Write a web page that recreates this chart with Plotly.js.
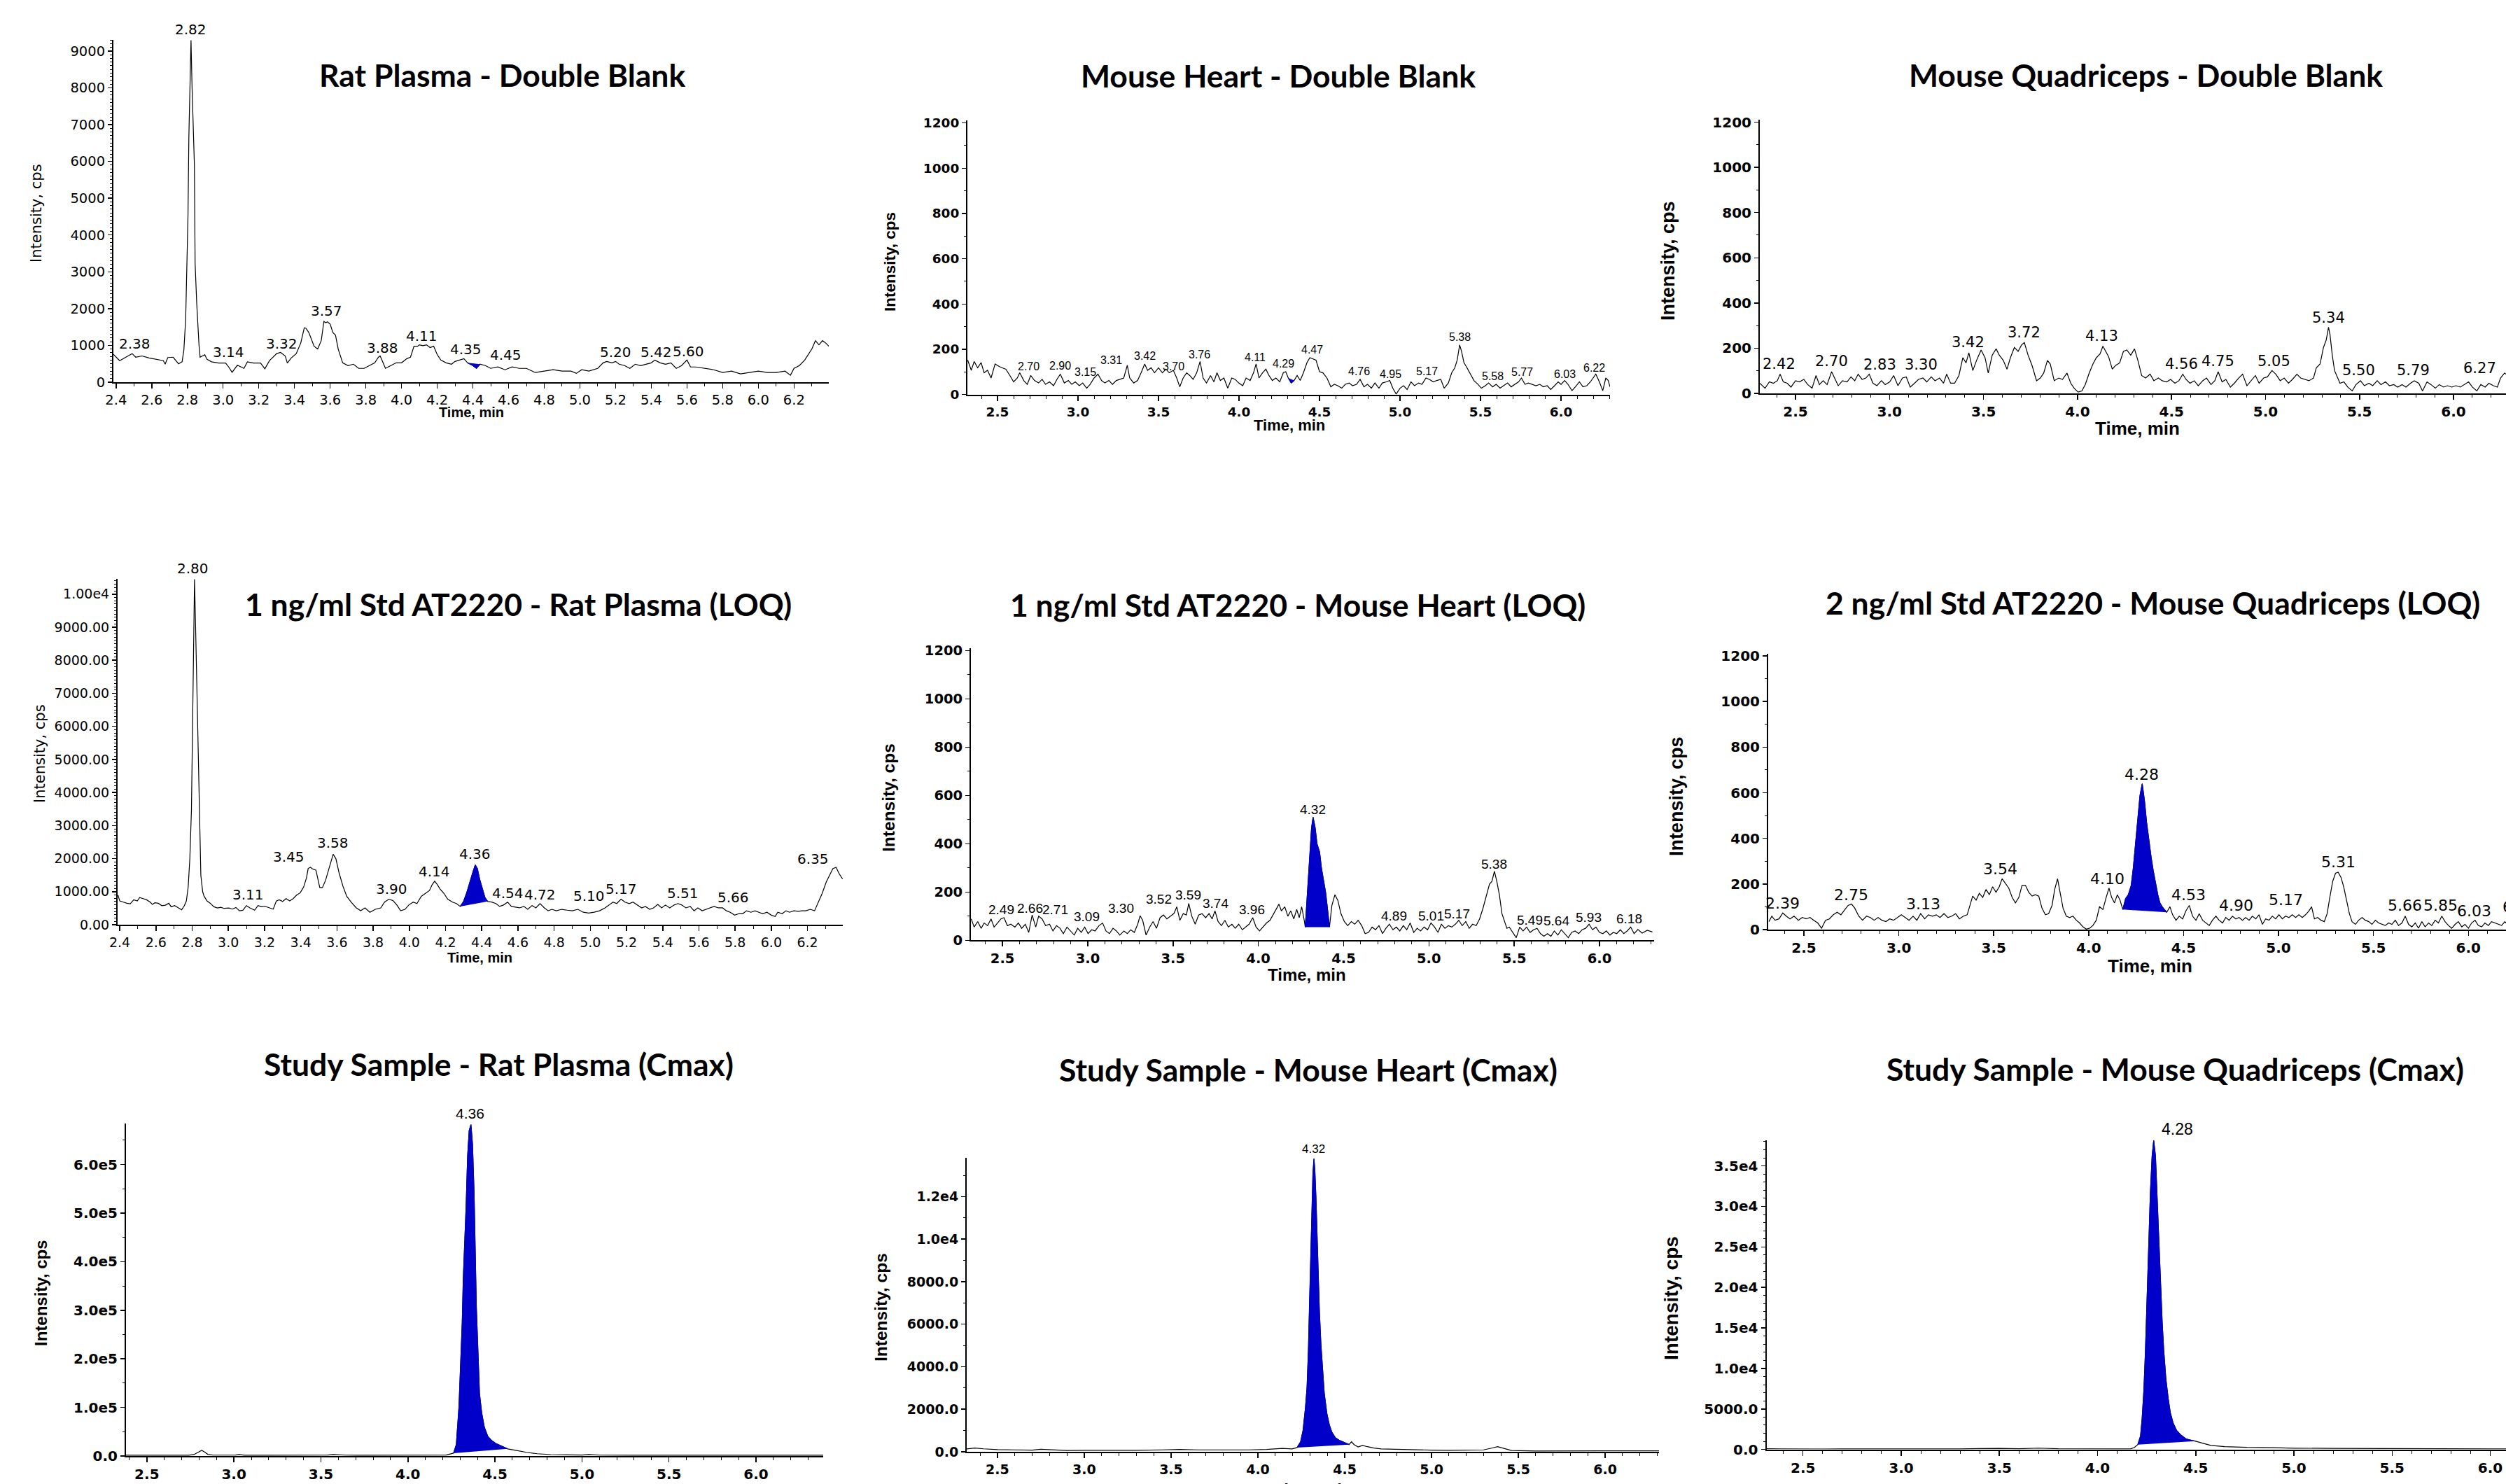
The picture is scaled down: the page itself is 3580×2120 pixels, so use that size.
<!DOCTYPE html>
<html><head><meta charset="utf-8">
<script src="https://cdn.plot.ly/plotly-3.0.1.min.js"></script>
<style>html,body{margin:0;padding:0;background:#fff;}#chart{width:3580px;height:2120px;}</style>
</head><body><div id="chart"></div>
<script>
// ---------------- DATA ----------------
const panelTitles = [
 "Rat Plasma - Double Blank","Mouse Heart - Double Blank","Mouse Quadriceps - Double Blank",
 "1 ng/ml Std AT2220 - Rat Plasma (LOQ)","1 ng/ml Std AT2220 - Mouse Heart (LOQ)","2 ng/ml Std AT2220 - Mouse Quadriceps (LOQ)",
 "Study Sample - Rat Plasma (Cmax)","Study Sample - Mouse Heart (Cmax)","Study Sample - Mouse Quadriceps (Cmax)"];
const yAxisTitle = "Intensity, cps";
const xAxisTitle = "Time, min";

// Panel 1: Rat Plasma - Double Blank
const ratBlankTime = [
 2.385,2.42,2.455,2.49,2.51,2.545,2.585,2.625,2.665,2.675,
 2.69,2.72,2.75,2.77,2.78,2.79,2.797,2.803,2.808,2.814,
 2.82,2.826,2.833,2.839,2.843,2.852,2.865,2.871,2.884,2.897,
 2.91,2.935,2.975,3.014,3.034,3.05,3.08,3.117,3.136,3.17,
 3.21,3.234,3.26,3.30,3.322,3.348,3.36,3.38,3.41,3.435,
 3.455,3.464,3.48,3.51,3.53,3.55,3.565,3.575,3.585,3.60,
 3.615,3.63,3.645,3.67,3.70,3.73,3.76,3.79,3.82,3.85,
 3.87,3.88,3.89,3.91,3.94,3.97,4.00,4.03,4.05,4.07,
 4.09,4.10,4.12,4.14,4.16,4.18,4.20,4.22,4.25,4.28,
 4.30,4.33,4.35,4.37,4.40,4.42,4.44,4.47,4.50,4.54,
 4.58,4.62,4.66,4.70,4.75,4.80,4.85,4.90,4.95,4.98,
 5.01,5.05,5.10,5.13,5.15,5.18,5.20,5.22,5.25,5.28,
 5.31,5.34,5.37,5.40,5.42,5.45,5.48,5.51,5.54,5.57,
 5.60,5.62,5.65,5.70,5.75,5.80,5.85,5.90,5.95,6.00,
 6.05,6.10,6.15,6.18,6.20,6.23,6.26,6.28,6.30,6.32,
 6.34,6.36,6.38,6.395];
const ratBlankInt = [
 757,586,680,777,680,713,660,620,586,490,
 670,680,500,554,873,1700,3357,4500,6670,8400,
 9290,8000,6800,5900,3230,2150,1000,680,713,745,
 620,554,522,522,395,268,460,375,554,522,
 522,365,586,777,810,713,522,650,777,1063,
 1478,1466,1353,977,902,1128,1654,1617,1640,1579,
 1353,1278,902,526,451,489,376,376,451,526,
 677,714,602,376,451,526,526,639,677,977,
 977,1015,992,1015,940,977,752,602,526,489,
 564,602,639,526,451,376,489,451,376,414,
 338,414,376,376,263,301,338,301,301,240,
 338,301,376,526,564,526,564,489,451,376,
 489,451,489,526,602,526,489,526,376,451,
 602,414,414,376,338,263,301,226,263,301,
 263,263,301,188,376,451,602,752,902,1128,
 1015,1128,1053,977];
const ratBlankMarked = [4.37, 4.44];
const ratBlankLabelText = ["2.38","2.82","3.14","3.32","3.57","3.88","4.11","4.35","4.45","5.20","5.42","5.60"];
const ratBlankLabelTime = [2.506,2.82,3.032,3.328,3.579,3.893,4.114,4.362,4.583,5.202,5.429,5.61];
const ratBlankLabelInt  = [1053,9590,812,1053,1940,940,1263,887,737,827,827,842];

// Panel 2: Mouse Heart - Double Blank
const heartBlankTime = [
 2.315,2.337,2.355,2.377,2.398,2.417,2.438,2.46,2.485,2.51,
 2.53,2.552,2.577,2.60,2.623,2.638,2.663,2.685,2.706,2.73,
 2.755,2.777,2.798,2.823,2.848,2.869,2.89,2.915,2.94,2.961,
 2.983,3.008,3.029,3.054,3.075,3.10,3.124,3.146,3.167,3.192,
 3.214,3.238,3.26,3.284,3.306,3.321,3.346,3.37,3.392,3.414,
 3.432,3.454,3.475,3.50,3.524,3.546,3.567,3.592,3.613,3.632,
 3.653,3.675,3.694,3.715,3.737,3.758,3.777,3.798,3.823,3.844,
 3.863,3.884,3.906,3.93,3.955,3.976,3.998,4.023,4.044,4.069,
 4.09,4.106,4.124,4.146,4.167,4.186,4.207,4.229,4.253,4.275,
 4.29,4.306,4.324,4.342,4.361,4.38,4.40,4.422,4.44,4.46,
 4.478,4.50,4.521,4.546,4.57,4.592,4.613,4.638,4.66,4.684,
 4.705,4.73,4.752,4.776,4.798,4.822,4.844,4.869,4.89,4.915,
 4.936,4.955,4.976,5.0,5.022,5.044,5.068,5.09,5.115,5.136,
 5.161,5.182,5.207,5.228,5.253,5.274,5.30,5.321,5.34,5.355,
 5.37,5.382,5.397,5.416,5.438,5.459,5.484,5.505,5.53,5.55,
 5.575,5.597,5.621,5.643,5.668,5.69,5.714,5.736,5.754,5.776,
 5.797,5.822,5.844,5.868,5.89,5.914,5.936,5.96,5.982,6.0,
 6.022,6.043,6.068,6.089,6.114,6.136,6.16,6.182,6.2,6.216,
 6.238,6.259,6.278,6.293,6.304];
const heartBlankInt = [
 152,107,146,118,141,96,107,73,135,124,
 118,112,84,56,73,96,62,45,84,62,
 51,67,45,56,39,67,90,51,62,45,
 56,39,51,28,45,73,90,62,51,62,
 45,62,67,73,129,73,51,62,96,135,
 107,118,96,118,96,112,96,107,73,34,
 73,96,84,67,96,146,73,51,84,56,
 96,62,73,28,73,67,51,39,73,62,
 96,135,73,96,112,84,62,73,56,96,
 101,73,51,62,84,62,96,141,163,157,
 152,101,96,73,34,45,39,28,45,51,
 39,45,67,34,45,28,51,28,51,56,
 62,28,2,28,39,22,56,39,51,45,
 73,67,56,62,67,28,51,96,118,152,
 219,191,141,118,90,62,45,28,39,51,
 34,45,28,39,51,34,45,56,73,45,
 51,45,39,45,34,39,22,39,56,45,
 62,45,17,34,56,34,39,56,73,90,
 56,17,73,62,34];
const heartBlankMarked = [4.306, 4.342];
const heartBlankLabelText = ["2.70","2.90","3.15","3.31","3.42","3.70","3.76","4.11","4.29","4.47","4.76","4.95","5.17","5.38","5.58","5.77","6.03","6.22"];
const heartBlankLabelTime = [2.694,2.891,3.044,3.207,3.417,3.592,3.755,4.10,4.278,4.453,4.745,4.939,5.167,5.37,5.575,5.76,6.022,6.207];
const heartBlankLabelInt  = [124,127,98,152,169,124,177,165,135,197,101,90,101,255,82,99,90,118];

// Panel 3: Mouse Quadriceps - Double Blank
const quadBlankTime = [
 2.31,2.338,2.361,2.382,2.403,2.418,2.435,2.456,2.476,2.50,
 2.521,2.544,2.565,2.588,2.609,2.627,2.647,2.668,2.692,2.706,
 2.727,2.75,2.774,2.795,2.815,2.833,2.854,2.874,2.892,2.912,
 2.933,2.957,2.977,3.001,3.022,3.045,3.069,3.089,3.11,3.133,
 3.154,3.178,3.198,3.222,3.242,3.266,3.287,3.304,3.325,3.346,
 3.369,3.39,3.407,3.422,3.443,3.463,3.487,3.508,3.525,3.546,
 3.567,3.584,3.605,3.625,3.643,3.664,3.684,3.702,3.717,3.737,
 3.758,3.782,3.802,3.82,3.84,3.855,3.876,3.90,3.92,3.944,
 3.964,3.982,4.003,4.023,4.041,4.062,4.082,4.10,4.12,4.135,
 4.15,4.165,4.185,4.203,4.224,4.244,4.262,4.283,4.303,4.321,
 4.341,4.362,4.386,4.406,4.43,4.45,4.474,4.495,4.518,4.539,
 4.56,4.577,4.598,4.621,4.642,4.666,4.686,4.71,4.73,4.748,
 4.769,4.789,4.813,4.834,4.857,4.878,4.901,4.922,4.946,4.966,
 4.99,5.01,5.034,5.055,5.078,5.099,5.122,5.143,5.167,5.187,
 5.211,5.231,5.255,5.27,5.29,5.308,5.323,5.335,5.343,5.355,
 5.367,5.378,5.396,5.417,5.437,5.461,5.481,5.505,5.526,5.55,
 5.57,5.594,5.614,5.638,5.659,5.682,5.703,5.726,5.747,5.771,
 5.791,5.815,5.835,5.859,5.88,5.903,5.924,5.947,5.968,5.991,
 6.012,6.036,6.056,6.08,6.10,6.124,6.145,6.168,6.188,6.212,
 6.233,6.25,6.271,6.28];
const quadBlankInt = [
 45,23,51,45,56,85,51,45,28,56,
 51,62,39,23,79,39,56,39,96,73,
 34,56,51,73,56,85,62,68,85,45,
 34,56,39,51,79,34,68,73,28,45,
 62,68,51,73,56,68,45,85,45,45,
 79,158,135,180,101,146,192,158,90,169,
 197,169,146,107,158,203,186,214,225,169,
 124,56,68,90,146,130,56,68,62,90,
 45,23,6,11,39,90,130,158,175,209,
 186,163,107,124,135,186,192,169,197,146,
 79,68,85,56,68,56,51,62,45,56,
 85,62,45,56,34,56,68,39,56,96,
 51,62,28,45,68,85,34,56,79,45,
 68,73,101,85,56,68,45,62,85,68,
 62,56,68,113,130,203,237,293,259,169,
 101,79,45,51,28,11,39,56,34,45,
 34,56,39,51,34,39,28,39,28,45,
 56,45,11,51,39,23,39,28,34,28,
 34,28,39,51,28,11,39,28,45,34,
 28,68,90,85];
const quadBlankMarked = null;
const quadBlankLabelText = ["2.42","2.70","2.83","3.30","3.42","3.72","4.13","4.56","4.75","5.05","5.34","5.50","5.79","6.27"];
const quadBlankLabelTime = [2.412,2.692,2.948,3.169,3.419,3.714,4.129,4.554,4.745,5.043,5.334,5.496,5.785,6.139];
const quadBlankLabelInt  = [130,141,126,126,225,270,254,130,141,141,336,101,101,110];

// Panel 4: 1 ng/ml Std - Rat Plasma (LOQ)
const ratLoqTime = [
 2.39,2.40,2.42,2.44,2.458,2.477,2.497,2.51,2.529,2.548,
 2.568,2.58,2.594,2.613,2.632,2.652,2.671,2.684,2.703,2.723,
 2.742,2.757,2.768,2.778,2.787,2.796,2.801,2.807,2.813,2.819,
 2.826,2.832,2.839,2.848,2.858,2.866,2.882,2.90,2.92,2.94,
 2.958,2.977,3.003,3.022,3.042,3.061,3.08,3.10,3.119,3.145,
 3.164,3.184,3.203,3.229,3.248,3.265,3.281,3.30,3.319,3.339,
 3.358,3.377,3.397,3.416,3.432,3.441,3.454,3.463,3.484,3.505,
 3.52,3.537,3.558,3.579,3.594,3.612,3.633,3.654,3.678,3.707,
 3.731,3.755,3.782,3.812,3.842,3.863,3.887,3.91,3.931,3.952,
 3.976,3.997,4.021,4.042,4.066,4.09,4.111,4.126,4.14,4.155,
 4.17,4.191,4.212,4.239,4.26,4.281,4.298,4.316,4.334,4.352,
 4.364,4.376,4.388,4.403,4.418,4.433,4.454,4.478,4.499,4.52,
 4.543,4.564,4.588,4.609,4.633,4.654,4.678,4.699,4.722,4.746,
 4.767,4.788,4.812,4.842,4.872,4.901,4.931,4.961,4.991,5.021,
 5.051,5.081,5.104,5.125,5.146,5.17,5.191,5.215,5.236,5.26,
 5.284,5.304,5.328,5.349,5.373,5.394,5.415,5.439,5.463,5.484,
 5.505,5.528,5.552,5.573,5.594,5.618,5.642,5.663,5.684,5.707,
 5.731,5.752,5.773,5.797,5.821,5.842,5.863,5.887,5.91,5.931,
 5.952,5.976,6.0,6.021,6.036,6.06,6.081,6.101,6.125,6.149,
 6.17,6.191,6.215,6.239,6.26,6.281,6.304,6.325,6.34,6.358,
 6.373,6.388,6.394];
const ratLoqInt = [
 894,718,683,648,634,754,718,824,789,754,
 683,613,662,648,577,592,648,542,577,507,
 451,577,718,1141,1986,3465,5366,8200,10450,9000,
 7268,5648,3606,1493,1000,859,718,648,542,507,
 528,493,507,472,521,422,437,577,507,437,
 577,542,556,507,472,718,754,704,789,718,
 789,894,965,1141,1422,1704,1739,1693,1649,1123,
 1123,1342,1737,2132,2000,1561,1167,860,684,509,
 421,509,377,465,509,684,772,728,596,421,
 465,596,684,640,860,947,1035,1211,1316,1211,
 1079,947,772,684,640,553,684,947,1298,1605,
 1807,1693,1386,1079,816,702,684,640,553,596,
 684,553,526,509,553,465,579,509,640,509,
 421,465,421,465,439,421,465,377,351,377,
 421,509,596,684,640,772,684,640,684,596,
 509,553,465,509,614,509,596,509,596,640,
 596,509,553,421,509,421,465,509,553,509,
 509,421,377,289,333,333,421,377,421,377,
 333,377,289,246,377,333,421,377,421,404,
 421,421,465,421,684,947,1298,1518,1693,1737,
 1561,1430,1386];
const ratLoqMarked = [4.281, 4.433];
const ratLoqLabelText = ["2.80","3.11","3.45","3.58","3.90","4.14","4.36","4.54","4.72","5.10","5.17","5.51","5.66","6.35"];
const ratLoqLabelTime = [2.803,3.11,3.334,3.579,3.901,4.14,4.364,4.543,4.722,4.991,5.17,5.513,5.788,6.23];
const ratLoqLabelInt  = [10772,904,2044,2482,1079,1605,2132,947,904,860,1079,947,833,2000];
const ratLoqTickVals = [0,1000,2000,3000,4000,5000,6000,7000,8000,9000,10000];
const ratLoqTickText = ["0.00","1000.00","2000.00","3000.00","4000.00","5000.00","6000.00","7000.00","8000.00","9000.00","1.00e4"];

// Panel 5: 1 ng/ml Std - Mouse Heart (LOQ)
const heartLoqTime = [
 2.317,2.334,2.355,2.375,2.393,2.413,2.433,2.451,2.471,2.491,
 2.509,2.529,2.549,2.573,2.593,2.613,2.634,2.654,2.674,2.695,
 2.712,2.732,2.753,2.776,2.796,2.817,2.837,2.857,2.878,2.898,
 2.921,2.941,2.962,2.982,3.002,3.023,3.043,3.066,3.087,3.107,
 3.127,3.148,3.168,3.188,3.212,3.232,3.252,3.273,3.293,3.307,
 3.322,3.342,3.363,3.383,3.403,3.424,3.444,3.464,3.485,3.505,
 3.522,3.54,3.56,3.578,3.592,3.61,3.63,3.65,3.67,3.691,
 3.711,3.729,3.746,3.764,3.784,3.804,3.824,3.845,3.865,3.885,
 3.906,3.926,3.946,3.967,3.987,4.007,4.028,4.048,4.068,4.089,
 4.106,4.121,4.135,4.155,4.173,4.19,4.208,4.225,4.24,4.254,
 4.269,4.275,4.286,4.301,4.312,4.321,4.333,4.344,4.359,4.37,
 4.382,4.394,4.405,4.417,4.431,4.449,4.466,4.484,4.504,4.524,
 4.545,4.565,4.585,4.606,4.626,4.646,4.667,4.687,4.707,4.728,
 4.748,4.768,4.789,4.809,4.829,4.85,4.87,4.89,4.911,4.931,
 4.951,4.972,4.992,5.012,5.033,5.053,5.073,5.094,5.114,5.134,
 5.155,5.175,5.195,5.216,5.236,5.256,5.277,5.297,5.317,5.337,
 5.355,5.369,5.384,5.398,5.413,5.428,5.442,5.457,5.471,5.491,
 5.512,5.532,5.552,5.573,5.593,5.613,5.634,5.654,5.674,5.695,
 5.715,5.735,5.756,5.776,5.796,5.817,5.837,5.857,5.878,5.898,
 5.918,5.939,5.959,5.979,6.0,6.02,6.04,6.061,6.081,6.101,
 6.122,6.142,6.162,6.183,6.203,6.225,6.25,6.28,6.31];
const heartLoqInt = [
 89,55,78,50,72,61,89,55,72,89,
 94,61,67,55,72,50,67,33,105,55,
 100,89,61,67,39,61,50,28,55,39,
 22,50,33,55,28,44,39,61,72,39,
 28,50,39,22,39,28,44,33,67,102,
 83,22,55,78,50,94,105,89,100,111,
 139,83,111,105,153,100,67,105,111,94,
 111,89,122,78,61,83,55,67,50,67,
 44,55,67,94,55,39,55,72,83,111,
 133,150,122,139,100,122,89,128,94,139,
 83,55,177,355,466,510,466,399,366,299,
 250,200,133,55,144,189,166,111,78,61,
 78,67,83,61,28,33,55,44,61,28,
 50,67,44,55,39,61,44,72,33,50,
 39,55,44,72,55,33,67,50,61,55,
 67,83,61,78,50,67,61,89,133,189,
 233,244,286,244,189,111,78,50,55,33,
 11,55,39,55,33,44,50,28,17,28,
 17,39,22,44,28,11,33,39,28,44,
 50,67,44,55,33,28,39,22,33,28,
 44,28,39,55,28,45,30,42,35];
const heartLoqMarked = [4.275, 4.417];
const heartLoqLabelText = ["2.49","2.66","2.71","3.09","3.30","3.52","3.59","3.74","3.96","4.32","4.89","5.01","5.17","5.38","5.49","5.64","5.93","6.18"];
const heartLoqLabelTime = [2.494,2.663,2.808,2.994,3.197,3.415,3.589,3.749,3.961,4.321,4.795,5.012,5.166,5.383,5.593,5.747,5.936,6.174];
const heartLoqLabelInt  = [128,133,128,98,133,172,189,152,128,543,100,100,111,316,83,80,94,89];

// Panel 6: 2 ng/ml Std - Mouse Quadriceps (LOQ)
const quadLoqTime = [
 2.316,2.331,2.348,2.369,2.389,2.407,2.427,2.448,2.471,2.491,
 2.512,2.532,2.552,2.573,2.593,2.614,2.634,2.655,2.675,2.695,
 2.716,2.733,2.751,2.768,2.789,2.809,2.83,2.85,2.87,2.891,
 2.911,2.932,2.952,2.972,2.993,3.013,3.034,3.054,3.075,3.095,
 3.115,3.136,3.156,3.177,3.197,3.217,3.238,3.258,3.279,3.299,
 3.319,3.34,3.36,3.375,3.389,3.407,3.424,3.442,3.459,3.477,
 3.494,3.512,3.529,3.544,3.562,3.579,3.597,3.614,3.632,3.649,
 3.667,3.684,3.702,3.719,3.737,3.754,3.772,3.789,3.807,3.821,
 3.836,3.85,3.865,3.882,3.90,3.917,3.935,3.952,3.97,3.987,
 4.005,4.022,4.04,4.057,4.075,4.092,4.107,4.121,4.136,4.151,
 4.165,4.18,4.194,4.209,4.224,4.235,4.247,4.259,4.27,4.282,
 4.294,4.305,4.317,4.329,4.34,4.352,4.364,4.375,4.387,4.399,
 4.411,4.428,4.442,4.46,4.477,4.495,4.512,4.53,4.547,4.565,
 4.582,4.60,4.617,4.635,4.652,4.67,4.687,4.705,4.722,4.74,
 4.757,4.775,4.792,4.81,4.827,4.845,4.862,4.88,4.897,4.915,
 4.932,4.95,4.967,4.985,5.002,5.02,5.037,5.055,5.072,5.09,
 5.107,5.125,5.142,5.16,5.174,5.189,5.206,5.224,5.241,5.256,
 5.27,5.285,5.30,5.314,5.329,5.343,5.358,5.373,5.387,5.405,
 5.422,5.44,5.457,5.475,5.492,5.51,5.527,5.545,5.562,5.58,
 5.597,5.615,5.632,5.65,5.667,5.685,5.702,5.72,5.737,5.755,
 5.772,5.79,5.807,5.825,5.842,5.86,5.877,5.895,5.912,5.93,
 5.947,5.965,5.982,6.0,6.017,6.035,6.052,6.07,6.087,6.105,
 6.122,6.14,6.157,6.175,6.192,6.198];
const quadLoqInt = [
 35,59,41,47,73,59,47,59,41,53,
 47,53,41,29,6,41,47,65,76,65,
 88,106,112,94,59,41,59,53,41,53,
 41,35,47,41,53,65,53,41,59,41,
 70,47,65,59,65,53,70,53,59,70,
 47,59,65,106,147,129,159,141,176,153,
 188,164,188,223,200,182,141,117,141,194,
 194,164,147,153,147,94,65,70,106,176,
 223,164,94,59,53,59,41,29,12,2,
 6,18,41,100,88,141,182,141,117,153,
 129,88,135,153,194,270,376,493,587,640,
 564,470,387,317,258,200,153,117,100,88,
 76,100,65,41,59,47,82,106,59,41,
 70,41,29,18,41,59,41,29,53,41,
 59,47,53,41,53,41,59,47,65,23,
 47,41,59,47,65,47,59,53,65,53,
 65,53,65,82,100,47,53,41,35,70,
 141,211,247,252,229,188,129,70,35,23,
 41,53,41,35,23,41,29,23,18,29,
 23,41,18,29,59,23,12,29,6,35,
 12,29,18,41,29,59,35,18,6,23,
 35,12,23,6,29,41,18,12,29,18,
 35,29,23,18,35,29];
const quadLoqMarked = [4.18, 4.411];
const quadLoqLabelText = ["2.39","2.75","3.13","3.54","4.10","4.28","4.53","4.90","5.17","5.31","5.66","5.85","6.03","6.18"];
const quadLoqLabelTime = [2.389,2.748,3.127,3.535,4.098,4.279,4.527,4.775,5.037,5.314,5.664,5.854,6.029,6.25];
const quadLoqLabelInt  = [115,153,112,264,223,681,153,106,132,296,106,106,82,100];

// Panel 7: Study Sample - Rat Plasma (Cmax)
const ratCmaxTime = [
 2.38,2.45,2.55,2.65,2.74,2.77,2.80,2.815,2.83,2.85,
 2.88,2.95,3.01,3.03,3.06,3.2,3.35,3.5,3.54,3.57,
 3.60,3.64,3.75,3.9,4.05,4.15,4.22,4.262,4.278,4.293,
 4.303,4.312,4.318,4.324,4.334,4.343,4.352,4.362,4.371,4.38,
 4.386,4.393,4.402,4.411,4.424,4.439,4.458,4.48,4.504,4.535,
 4.573,4.619,4.681,4.743,4.821,4.914,5.0,5.04,5.07,5.1,
 5.3,5.6,5.9,6.2,6.386];
const ratCmaxInt = [
 1600,1400,1600,1400,1600,3000,9000,11500,8500,3500,
 1800,1500,2000,3000,1700,1600,1500,1600,2000,3200,
 2600,1800,1600,1500,1600,1800,2000,5882,23500,100000,
 188000,276000,365000,418000,512000,618000,670000,682000,641000,541000,
 418000,306000,218000,129000,88000,59000,41000,32000,26000,20600,
 14700,11800,7600,4700,2900,2400,2000,3200,2800,1800,
 1600,1500,1600,1500,1600];
const ratCmaxMarked = [4.262, 4.573];
const ratCmaxLabelText = ["4.36"];
const ratCmaxLabelTime = [4.355];
const ratCmaxLabelInt  = [705000];
const ratCmaxTickVals = [0,100000,200000,300000,400000,500000,600000];
const ratCmaxTickText = ["0.0","1.0e5","2.0e5","3.0e5","4.0e5","5.0e5","6.0e5"];

// Panel 8: Study Sample - Mouse Heart (Cmax)
const heartCmaxTime = [
 2.323,2.37,2.42,2.5,2.6,2.7,2.75,2.8,2.9,3.0,
 3.15,3.3,3.45,3.55,3.65,3.8,3.95,4.05,4.14,4.197,
 4.226,4.246,4.26,4.274,4.283,4.291,4.297,4.303,4.311,4.317,
 4.323,4.328,4.334,4.34,4.345,4.354,4.363,4.371,4.382,4.397,
 4.411,4.425,4.445,4.468,4.488,4.511,4.525,4.539,4.554,4.577,
 4.602,4.631,4.668,4.71,4.8,4.9,5.0,5.1,5.2,5.3,
 5.35,5.381,5.42,5.46,5.6,5.8,6.0,6.15,6.31];
const heartCmaxInt = [
 134,175,140,100,90,80,120,100,60,70,
 60,70,90,110,90,80,90,110,161,134,
 200,470,1000,2080,3020,4770,6920,9070,11360,13100,
 13780,13240,12030,10420,8800,6650,5040,3960,2760,1810,
 1280,940,670,540,470,400,340,470,340,230,
 300,240,175,134,110,90,80,70,70,90,
 180,240,150,60,40,45,40,50,45];
const heartCmaxMarked = [4.226, 4.525];
const heartCmaxLabelText = ["4.32"];
const heartCmaxLabelTime = [4.32];
const heartCmaxLabelInt  = [14200];
const heartCmaxTickVals = [0,2000,4000,6000,8000,10000,12000];
const heartCmaxTickText = ["0.0","2000.0","4000.0","6000.0","8000.0","1.0e4","1.2e4"];

// Panel 9: Study Sample - Mouse Quadriceps (Cmax)
const quadCmaxTime = [
 2.314,2.4,2.5,2.6,2.7,2.8,2.9,3.0,3.1,3.2,
 3.3,3.4,3.5,3.6,3.7,3.8,3.9,4.0,4.1,4.168,
 4.188,4.205,4.219,4.227,4.236,4.244,4.253,4.261,4.269,4.278,
 4.286,4.295,4.303,4.312,4.32,4.329,4.337,4.348,4.36,4.371,
 4.385,4.402,4.422,4.45,4.478,4.50,4.534,4.577,4.647,4.76,
 4.9,5.0,5.2,5.3,5.4,5.5,5.7,5.9,6.08];
const quadCmaxInt = [
 80,60,70,50,70,60,50,80,60,70,
 60,100,130,90,160,80,60,40,60,70,
 250,600,1660,3780,7300,12240,19300,26350,31650,36230,
 38170,36230,31300,25650,20000,15770,12240,8710,6240,4480,
 3250,2360,1830,1300,1130,1020,780,490,350,250,
 210,150,130,120,80,60,60,50,60];
const quadCmaxMarked = [4.205, 4.50];
const quadCmaxLabelText = ["4.28"];
const quadCmaxLabelTime = [4.408];
const quadCmaxLabelInt  = [39480];
const quadCmaxTickVals = [0,5000,10000,15000,20000,25000,30000,35000];
const quadCmaxTickText = ["0.0","5000.0","1.0e4","1.5e4","2.0e4","2.5e4","3.0e4","3.5e4"];

// ---------------- LAYOUT / DRAWING ----------------
const W = 3580, H = 2120;
const BLUE = '#0000C8';
const series = [
 {t:ratBlankTime, v:ratBlankInt, m:ratBlankMarked, lt:ratBlankLabelTime, lv:ratBlankLabelInt, ls:ratBlankLabelText},
 {t:heartBlankTime, v:heartBlankInt, m:heartBlankMarked, lt:heartBlankLabelTime, lv:heartBlankLabelInt, ls:heartBlankLabelText},
 {t:quadBlankTime, v:quadBlankInt, m:quadBlankMarked, lt:quadBlankLabelTime, lv:quadBlankLabelInt, ls:quadBlankLabelText},
 {t:ratLoqTime, v:ratLoqInt, m:ratLoqMarked, lt:ratLoqLabelTime, lv:ratLoqLabelInt, ls:ratLoqLabelText, tv:ratLoqTickVals, tt:ratLoqTickText},
 {t:heartLoqTime, v:heartLoqInt, m:heartLoqMarked, lt:heartLoqLabelTime, lv:heartLoqLabelInt, ls:heartLoqLabelText},
 {t:quadLoqTime, v:quadLoqInt, m:quadLoqMarked, lt:quadLoqLabelTime, lv:quadLoqLabelInt, ls:quadLoqLabelText},
 {t:ratCmaxTime, v:ratCmaxInt, m:ratCmaxMarked, lt:ratCmaxLabelTime, lv:ratCmaxLabelInt, ls:ratCmaxLabelText, tv:ratCmaxTickVals, tt:ratCmaxTickText},
 {t:heartCmaxTime, v:heartCmaxInt, m:heartCmaxMarked, lt:heartCmaxLabelTime, lv:heartCmaxLabelInt, ls:heartCmaxLabelText, tv:heartCmaxTickVals, tt:heartCmaxTickText},
 {t:quadCmaxTime, v:quadCmaxInt, m:quadCmaxMarked, lt:quadCmaxLabelTime, lv:quadCmaxLabelInt, ls:quadCmaxLabelText, tv:quadCmaxTickVals, tt:quadCmaxTickText}
];
// geometry in pixels: box = [left, right, top, bottom]
const geo = [
 {box:[162,1184,57,546], xr:[2.385,6.395], yr:[0,9300], xd:0.2, yd:1000, ym:100, tk:19.5, tb:false, lf:'DejaVu Sans', lsz:20,
  yt:{x:52,y:305,sz:21,f:'DejaVu Sans',b:false}, xt:{x:673,y:589,sz:20,b:true}, ti:{x:717,y:107}},
 {box:[1382,2300,172.4,563.6], xr:[2.313,6.304], yr:[0,1210], xd:0.5, yd:200, ym:100, tk:18.5, tb:true, lf:'Liberation Sans', lsz:16,
  yt:{x:1271,y:374,sz:22.5,f:'Liberation Sans',b:true}, xt:{x:1842,y:607,sz:22,b:true}, ti:{x:1826,y:108}},
 {box:[2514,3580,171.3,562], xr:[2.31,6.279], yr:[0,1210], xd:0.5, yd:200, ym:100, tk:20, tb:true, lf:'DejaVu Sans', lsz:21,
  yt:{x:2383,y:373,sz:27,f:'Liberation Sans',b:true}, xt:{x:3053,y:612,sz:26,b:true}, ti:{x:3065,y:107}},
 {box:[168,1204,826.7,1321], xr:[2.388,6.395], yr:[0,10468], xd:0.2, yd:1000, ym:100, tk:19, tb:false, lf:'DejaVu Sans', lsz:20,
  yt:{x:57,y:1077,sz:21,f:'DejaVu Sans',b:false}, xt:{x:685,y:1368,sz:20,b:true}, ti:{x:740,y:862}},
 {box:[1387,2363,925.9,1343.4], xr:[2.315,6.32], yr:[0,1210], xd:0.5, yd:200, ym:100, tk:19.5, tb:true, lf:'Liberation Sans', lsz:19,
  yt:{x:1269,y:1140,sz:24.5,f:'Liberation Sans',b:true}, xt:{x:1867,y:1392,sz:24,b:true}, ti:{x:1854,y:863}},
 {box:[2526,3580,933.8,1328], xr:[2.312,6.198], yr:[0,1210], xd:0.5, yd:200, ym:100, tk:20, tb:true, lf:'DejaVu Sans', lsz:22,
  yt:{x:2395,y:1138,sz:27,f:'Liberation Sans',b:true}, xt:{x:3071,y:1380,sz:26,b:true}, ti:{x:3075,y:860}},
 {box:[180,1176,1604.5,2080], xr:[2.38,6.386], yr:[0,685000], xd:0.5, ym:50000, tk:20, tb:true, lf:'Liberation Sans', lsz:21,
  yt:{x:58,y:1847,sz:24,f:'Liberation Sans',b:true}, xt:{x:680,top:2115,sz:24,b:true}, ti:{x:712,y:1519}},
 {box:[1381,2370,1653.5,2074], xr:[2.323,6.31], yr:[0,13840], xd:0.5, ym:1000, tk:19, tb:true, lf:'Liberation Sans', lsz:17,
  yt:{x:1258,y:1868,sz:24.5,f:'Liberation Sans',b:true}, xt:{x:1876,top:2113,sz:24,b:true}, ti:{x:1869,y:1527}},
 {box:[2523.5,3580,1628.6,2070.6], xr:[2.314,6.08], yr:[0,38200], xd:0.5, ym:1000, tk:20, tb:true, lf:'Liberation Sans', lsz:23,
  yt:{x:2387,y:1855,sz:28,f:'Liberation Sans',b:true}, xt:{x:3085,top:2115,sz:24,b:true}, ti:{x:3107,y:1526}}
];

const px = v => v / W;
const py = v => 1 - v / H;
const data = [];
const annotations = [];
const layout = {
  width: W, height: H, margin: {l:0, r:0, t:0, b:0},
  paper_bgcolor: '#fff', plot_bgcolor: 'rgba(0,0,0,0)', showlegend: false,
  font: {family: 'DejaVu Sans', color: '#000'}, annotations: annotations
};

series.forEach((s, i) => {
  const g = geo[i];
  const k = i + 1;
  const xn = 'x' + (k === 1 ? '' : k), yn = 'y' + (k === 1 ? '' : k);
  const tickfont = {family: 'DejaVu Sans', size: g.tk, color: '#000', weight: g.tb ? 700 : 400};
  layout['xaxis' + (k === 1 ? '' : k)] = {
    domain: [px(g.box[0]), px(g.box[1])], range: g.xr, anchor: yn,
    showline: true, linecolor: '#000', linewidth: 2, zeroline: false, showgrid: false,
    ticks: 'outside', ticklen: 7, tickwidth: 1.5, tickcolor: '#000',
    tickmode: 'linear', tick0: 0, dtick: g.xd, tickformat: '.1f', tickfont: tickfont,
    minor: {tickmode: 'linear', tick0: 0, dtick: 0.1, ticks: 'outside', ticklen: 4, tickwidth: 1, tickcolor: '#000', showgrid: false},
    automargin: false, fixedrange: true
  };
  const ya = {
    domain: [py(g.box[3]), py(g.box[2])], range: g.yr, anchor: xn,
    showline: true, linecolor: '#000', linewidth: 2, zeroline: false, showgrid: false,
    ticks: 'outside', ticklen: 6, tickwidth: 1.5, tickcolor: '#000', tickfont: tickfont,
    minor: {tickmode: 'linear', tick0: 0, dtick: g.ym, ticks: 'outside', ticklen: 3, tickwidth: 1, tickcolor: '#000', showgrid: false},
    automargin: false, fixedrange: true
  };
  if (s.tv) { ya.tickmode = 'array'; ya.tickvals = s.tv; ya.ticktext = s.tt; }
  else { ya.tickmode = 'linear'; ya.tick0 = 0; ya.dtick = g.yd; }
  layout['yaxis' + (k === 1 ? '' : k)] = ya;

  // chromatogram trace
  data.push({type: 'scatter', mode: 'lines', x: s.t, y: s.v, xaxis: xn, yaxis: yn,
    line: {color: '#000', width: 1.2}, hoverinfo: 'skip'});
  // integrated (marked) region, taken from the same series
  if (s.m) {
    const fx = [], fy = [];
    s.t.forEach((tt, j) => { if (tt >= s.m[0] - 1e-9 && tt <= s.m[1] + 1e-9) { fx.push(tt); fy.push(s.v[j]); } });
    data.push({type: 'scatter', mode: 'lines', x: fx, y: fy, xaxis: xn, yaxis: yn, fill: 'toself',
      fillcolor: BLUE, line: {color: BLUE, width: 1.2}, hoverinfo: 'skip'});
  }
  // peak retention-time labels (labels above the axis top sit just above it; beyond the right end, at the edge)
  s.ls.forEach((txt, j) => {
    const a = {xref: xn, yref: yn, x: s.lt[j], y: s.lv[j], text: txt, showarrow: false,
      xanchor: 'center', yanchor: 'middle', font: {family: g.lf, size: g.lsz, color: '#000'}};
    if (a.y > g.yr[1]) { a.y = g.yr[1]; a.yanchor = 'bottom'; a.yshift = 1; }
    if (a.x > g.xr[1]) { a.x = g.xr[1]; a.xanchor = 'left'; a.xshift = -7; }
    annotations.push(a);
  });
  // panel title
  annotations.push({xref: 'paper', yref: 'paper', x: px(g.ti.x), y: py(g.ti.y), text: '<b>' + panelTitles[i] + '</b>',
    showarrow: false, xanchor: 'center', yanchor: 'middle', font: {family: 'Lato, "Open Sans", sans-serif', size: 44.5, color: '#000'}});
  // axis titles
  annotations.push({xref: 'paper', yref: 'paper', x: px(g.yt.x), y: py(g.yt.y), text: g.yt.b ? '<b>' + yAxisTitle + '</b>' : yAxisTitle,
    textangle: -90, showarrow: false, xanchor: 'center', yanchor: 'middle', font: {family: g.yt.f, size: g.yt.sz, color: '#000'}});
  const xt = {xref: 'paper', yref: 'paper', x: px(g.xt.x), text: g.xt.b ? '<b>' + xAxisTitle + '</b>' : xAxisTitle,
    showarrow: false, xanchor: 'center', font: {family: 'Liberation Sans, Arial, sans-serif', size: g.xt.sz, color: '#000'}};
  if (g.xt.top !== undefined) { xt.y = py(g.xt.top); xt.yanchor = 'top'; }
  else { xt.y = py(g.xt.y); xt.yanchor = 'middle'; }
  annotations.push(xt);
});

Plotly.newPlot('chart', data, layout, {staticPlot: true, displayModeBar: false});
</script></body></html>
